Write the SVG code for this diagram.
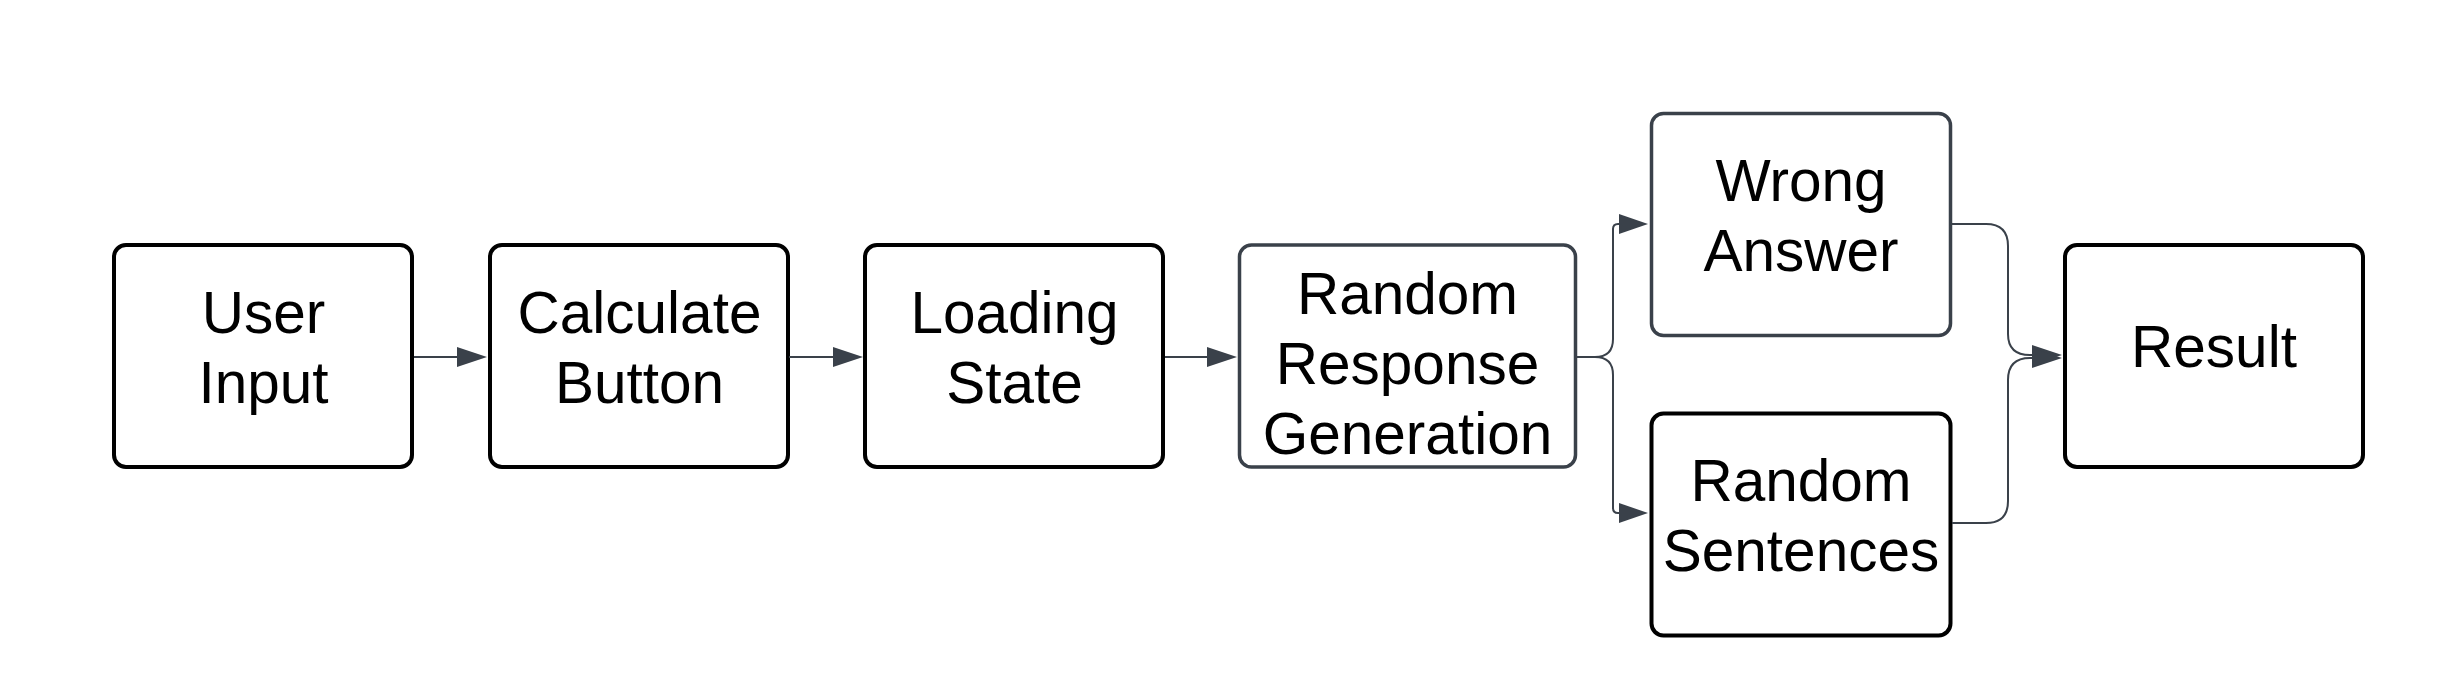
<svg xmlns="http://www.w3.org/2000/svg" width="2464" height="699" viewBox="0 0 2464 699">
<style>
.box{fill:#fff;stroke:#000;stroke-width:4}
.gbox{fill:#fff;stroke:#3a414a;stroke-width:3.5}
.lbl{font-family:"Liberation Sans",Arial,sans-serif;font-size:58.5px;fill:#000;text-anchor:middle}
.ln{fill:none;stroke:#3a414a;stroke-width:2}
.hd{fill:#3a414a;stroke:none}
</style>
<rect width="2464" height="699" fill="#fff"/>
<g id="user-input">
<rect class="box" x="114" y="245" width="298" height="222" rx="12"/>
<text class="lbl" x="263.5" y="333">User</text>
<text class="lbl" x="263.5" y="403">Input</text>
</g>
<g id="calculate-button">
<rect class="box" x="490" y="245" width="298" height="222" rx="12"/>
<text class="lbl" x="639.5" y="333">Calculate</text>
<text class="lbl" x="639.5" y="403">Button</text>
</g>
<g id="loading-state">
<rect class="box" x="865" y="245" width="298" height="222" rx="12"/>
<text class="lbl" x="1014.5" y="333">Loading</text>
<text class="lbl" x="1014.5" y="403">State</text>
</g>
<g id="random-response-generation">
<rect class="gbox" x="1239.5" y="245" width="336" height="222" rx="12"/>
<text class="lbl" x="1407.5" y="314">Random</text>
<text class="lbl" x="1407.5" y="384">Response</text>
<text class="lbl" x="1407.5" y="454">Generation</text>
</g>
<g id="wrong-answer">
<rect class="gbox" x="1651.5" y="113.5" width="299" height="222" rx="12"/>
<text class="lbl" x="1801" y="201">Wrong</text>
<text class="lbl" x="1801" y="271">Answer</text>
</g>
<g id="random-sentences">
<rect class="box" x="1651.5" y="413.5" width="299" height="222" rx="12"/>
<text class="lbl" x="1801" y="501">Random</text>
<text class="lbl" x="1801" y="571">Sentences</text>
</g>
<g id="result">
<rect class="box" x="2065" y="245" width="298" height="222" rx="12"/>
<text class="lbl" x="2214" y="367">Result</text>
</g>
<g id="connectors">
<path class="ln" d="M414,357 H460"/>
<polygon class="hd" points="457,347 487,357 457,367"/>
<path class="ln" d="M789,357 H836"/>
<polygon class="hd" points="833,347 863,357 833,367"/>
<path class="ln" d="M1165,357 H1210"/>
<polygon class="hd" points="1207,347 1237,357 1207,367"/>
<path class="ln" d="M1577,357 H1595 Q1613,357 1613,339 V229 Q1613,224 1618,224 H1622"/>
<polygon class="hd" points="1619,214 1648,224 1619,234"/>
<path class="ln" d="M1577,357 H1595 Q1613,357 1613,375 V508 Q1613,513 1618,513 H1622"/>
<polygon class="hd" points="1619,503 1648,513 1619,523"/>
<path class="ln" d="M1952,224 H1986 Q2008,224 2008,246 V334 Q2008,355 2030,355 H2035"/>
<polygon class="hd" points="2032,345 2062,355 2032,365"/>
<path class="ln" d="M1952,523 H1986 Q2008,523 2008,501 V380 Q2008,358 2030,358 H2035"/>
<polygon class="hd" points="2032,348 2062,358 2032,368"/>
</g>
</svg>
